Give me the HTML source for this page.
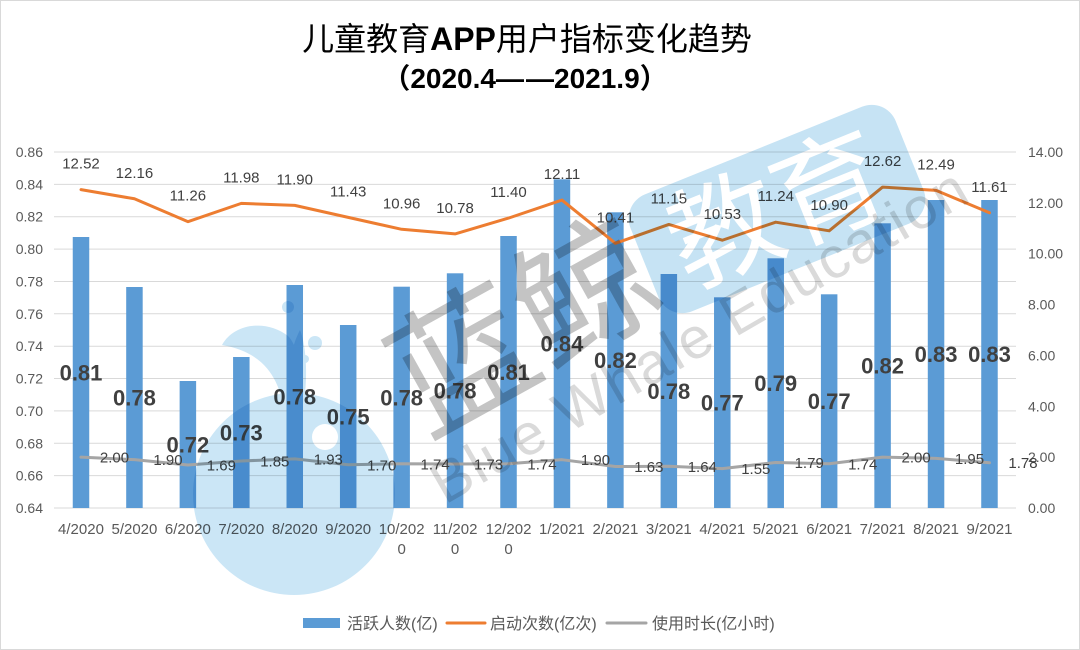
<!DOCTYPE html>
<html><head><meta charset="utf-8"><style>
html,body{margin:0;padding:0;background:#fff;}
svg{display:block;}
text{font-family:"Liberation Sans","Noto Sans CJK SC",sans-serif;}
</style></head><body>
<svg width="1080" height="650" viewBox="0 0 1080 650" xmlns="http://www.w3.org/2000/svg">
<rect x="0.5" y="0.5" width="1079" height="649" fill="#fff" stroke="#d9d9d9"/>
<!-- title -->
<text x="527" y="50" font-size="32" fill="#000" text-anchor="middle">儿童教育<tspan font-weight="bold">APP</tspan>用户指标变化趋势</text>
<text x="525" y="88" font-size="28" font-weight="bold" fill="#000" text-anchor="middle">（2020.4—<tspan dx="2">—</tspan>2021.9）</text>
<!-- gridlines -->
<g stroke="#d9d9d9" stroke-width="1">
<line x1="54" x2="1016" y1="508" y2="508"/>
<line x1="54" x2="1016" y1="475.6" y2="475.6"/>
<line x1="54" x2="1016" y1="443.3" y2="443.3"/>
<line x1="54" x2="1016" y1="410.9" y2="410.9"/>
<line x1="54" x2="1016" y1="378.5" y2="378.5"/>
<line x1="54" x2="1016" y1="346.2" y2="346.2"/>
<line x1="54" x2="1016" y1="313.8" y2="313.8"/>
<line x1="54" x2="1016" y1="281.5" y2="281.5"/>
<line x1="54" x2="1016" y1="249.1" y2="249.1"/>
<line x1="54" x2="1016" y1="216.7" y2="216.7"/>
<line x1="54" x2="1016" y1="184.4" y2="184.4"/>
<line x1="54" x2="1016" y1="152" y2="152"/>
</g>
<!-- left axis -->
<g font-size="14" fill="#595959" text-anchor="end">
<text x="43" y="513">0.64</text>
<text x="43" y="480.6">0.66</text>
<text x="43" y="448.3">0.68</text>
<text x="43" y="415.9">0.70</text>
<text x="43" y="383.5">0.72</text>
<text x="43" y="351.2">0.74</text>
<text x="43" y="318.8">0.76</text>
<text x="43" y="286.5">0.78</text>
<text x="43" y="254.1">0.80</text>
<text x="43" y="221.7">0.82</text>
<text x="43" y="189.4">0.84</text>
<text x="43" y="157">0.86</text>
</g>
<!-- right axis -->
<g font-size="14" fill="#595959" text-anchor="start">
<text x="1028" y="513">0.00</text>
<text x="1028" y="462.1">2.00</text>
<text x="1028" y="411.3">4.00</text>
<text x="1028" y="360.4">6.00</text>
<text x="1028" y="309.6">8.00</text>
<text x="1028" y="258.7">10.00</text>
<text x="1028" y="207.9">12.00</text>
<text x="1028" y="157">14.00</text>
</g>
<!-- bars -->
<g fill="#5B9BD5">
<rect x="72.75" y="237" width="16.5" height="271"/>
<rect x="126.19" y="287" width="16.5" height="221"/>
<rect x="179.63" y="381" width="16.5" height="127"/>
<rect x="233.07" y="357" width="16.5" height="151"/>
<rect x="286.51" y="285" width="16.5" height="223"/>
<rect x="339.95" y="325" width="16.5" height="183"/>
<rect x="393.39" y="286.7" width="16.5" height="221.3"/>
<rect x="446.83" y="273.3" width="16.5" height="234.7"/>
<rect x="500.27" y="236" width="16.5" height="272"/>
<rect x="553.71" y="179.3" width="16.5" height="328.7"/>
<rect x="607.15" y="212.3" width="16.5" height="295.7"/>
<rect x="660.59" y="274" width="16.5" height="234"/>
<rect x="714.03" y="297.3" width="16.5" height="210.7"/>
<rect x="767.47" y="258.3" width="16.5" height="249.7"/>
<rect x="820.91" y="294.3" width="16.5" height="213.7"/>
<rect x="874.35" y="223.3" width="16.5" height="284.7"/>
<rect x="927.79" y="200" width="16.5" height="308"/>
<rect x="981.23" y="200" width="16.5" height="308"/>
</g>
<!-- lines -->
<polyline fill="none" stroke="#ED7D31" stroke-width="3" stroke-linejoin="round" stroke-linecap="round" points="81,189.63 134.44,198.79 187.88,221.67 241.32,203.37 294.76,205.40 348.2,217.35 401.64,229.30 455.08,233.88 508.52,218.11 561.96,200.06 615.4,243.29 668.84,224.47 722.28,240.24 775.72,222.18 829.16,230.83 882.6,187.09 936.04,190.40 989.48,212.77"/>
<polyline fill="none" stroke="#A5A5A5" stroke-width="3" stroke-linejoin="round" stroke-linecap="round" points="81,457.14 134.44,459.68 187.88,465.02 241.32,460.96 294.76,458.92 348.2,464.77 401.64,463.75 455.08,464.01 508.52,463.75 561.96,459.68 615.4,466.55 668.84,466.30 722.28,468.59 775.72,462.48 829.16,463.75 882.6,457.14 936.04,458.41 989.48,462.74"/>
<!-- orange labels -->
<g font-size="15" fill="#404040" text-anchor="middle">
<text x="81" y="168.6">12.52</text>
<text x="134.44" y="177.8">12.16</text>
<text x="187.88" y="200.7">11.26</text>
<text x="241.32" y="182.4">11.98</text>
<text x="294.76" y="184.4">11.90</text>
<text x="348.2" y="196.4">11.43</text>
<text x="401.64" y="208.3">10.96</text>
<text x="455.08" y="212.9">10.78</text>
<text x="508.52" y="197.1">11.40</text>
<text x="561.96" y="179.1">12.11</text>
<text x="615.4" y="222.3">10.41</text>
<text x="668.84" y="203.5">11.15</text>
<text x="722.28" y="219.2">10.53</text>
<text x="775.72" y="201.2">11.24</text>
<text x="829.16" y="209.8">10.90</text>
<text x="882.6" y="166.1">12.62</text>
<text x="936.04" y="169.4">12.49</text>
<text x="989.48" y="191.8">11.61</text>
</g>
<!-- gray labels -->
<g font-size="15" fill="#404040" text-anchor="middle">
<text x="114.5" y="462.6">2.00</text>
<text x="168" y="465.2">1.90</text>
<text x="221.4" y="470.5">1.69</text>
<text x="274.8" y="466.5">1.85</text>
<text x="328.3" y="464.4">1.93</text>
<text x="381.7" y="470.3">1.70</text>
<text x="435.1" y="469.3">1.74</text>
<text x="488.6" y="469.5">1.73</text>
<text x="542" y="469.3">1.74</text>
<text x="595.5" y="465.2">1.90</text>
<text x="648.9" y="472">1.63</text>
<text x="702.3" y="471.8">1.64</text>
<text x="755.8" y="474.1">1.55</text>
<text x="809.2" y="468">1.79</text>
<text x="862.7" y="469.3">1.74</text>
<text x="916.1" y="462.6">2.00</text>
<text x="969.5" y="463.9">1.95</text>
<text x="1023" y="468.2">1.78</text>
</g>
<!-- bar labels -->
<g font-size="22" font-weight="bold" fill="#404040" text-anchor="middle">
<text x="81" y="380.5">0.81</text>
<text x="134.44" y="405.5">0.78</text>
<text x="187.88" y="452.5">0.72</text>
<text x="241.32" y="440.5">0.73</text>
<text x="294.76" y="404.5">0.78</text>
<text x="348.2" y="424.5">0.75</text>
<text x="401.64" y="405.4">0.78</text>
<text x="455.08" y="398.7">0.78</text>
<text x="508.52" y="380">0.81</text>
<text x="561.96" y="351.7">0.84</text>
<text x="615.4" y="368.2">0.82</text>
<text x="668.84" y="399">0.78</text>
<text x="722.28" y="410.7">0.77</text>
<text x="775.72" y="391.2">0.79</text>
<text x="829.16" y="409.2">0.77</text>
<text x="882.6" y="373.7">0.82</text>
<text x="936.04" y="362">0.83</text>
<text x="989.48" y="362">0.83</text>
</g>
<!-- x labels -->
<g font-size="15" fill="#595959" text-anchor="middle">
<text x="81" y="534">4/2020</text>
<text x="134.44" y="534">5/2020</text>
<text x="187.88" y="534">6/2020</text>
<text x="241.32" y="534">7/2020</text>
<text x="294.76" y="534">8/2020</text>
<text x="348.2" y="534">9/2020</text>
<text x="401.64" y="534">10/202</text>
<text x="401.64" y="554">0</text>
<text x="455.08" y="534">11/202</text>
<text x="455.08" y="554">0</text>
<text x="508.52" y="534">12/202</text>
<text x="508.52" y="554">0</text>
<text x="561.96" y="534">1/2021</text>
<text x="615.4" y="534">2/2021</text>
<text x="668.84" y="534">3/2021</text>
<text x="722.28" y="534">4/2021</text>
<text x="775.72" y="534">5/2021</text>
<text x="829.16" y="534">6/2021</text>
<text x="882.6" y="534">7/2021</text>
<text x="936.04" y="534">8/2021</text>
<text x="989.48" y="534">9/2021</text>
</g>
<!-- legend -->
<rect x="303" y="618" width="37" height="10" fill="#5B9BD5"/>
<text x="347" y="629" font-size="16" fill="#595959">活跃人数(亿)</text>
<line x1="447" x2="485" y1="623" y2="623" stroke="#ED7D31" stroke-width="3" stroke-linecap="round"/>
<text x="490" y="629" font-size="16" fill="#595959">启动次数(亿次)</text>
<line x1="607" x2="646" y1="623" y2="623" stroke="#A5A5A5" stroke-width="3" stroke-linecap="round"/>
<text x="652" y="629" font-size="16" fill="#595959">使用时长(亿小时)</text>
<!-- watermark -->
<g style="mix-blend-mode:multiply">
  <g fill="#cbe6f6">
    <circle cx="294" cy="494" r="101"/>
    <path d="M222,345 C235,322 268,320 288,336 C298,346 302,370 300,395 L282,400 C276,375 262,352 222,345 Z"/>
    <path d="M288,395 C286,370 292,345 300,330 C306,345 308,375 304,400 Z"/>
    <circle cx="288" cy="307" r="6"/>
    <circle cx="315" cy="343" r="7"/>
    <circle cx="305" cy="359" r="4"/>
  </g>
  <circle cx="325" cy="437" r="13" fill="#fff"/>
</g>
<g style="mix-blend-mode:multiply">
  <g transform="translate(777,209) rotate(-22)">
    <rect x="-143" y="-63" width="286" height="126" rx="26" fill="#c6e3f4"/>
    <text x="0" y="40" font-size="112" fill="#fff" text-anchor="middle" font-family="Noto Sans CJK SC, sans-serif">教育</text>
  </g>
</g>
<g style="mix-blend-mode:multiply">
  <text transform="translate(525,328) rotate(-29)" x="0" y="48" font-size="140" fill="#c4c4c4" text-anchor="middle" font-family="Noto Sans CJK SC, sans-serif">蓝鲸</text>
  <text transform="translate(445,505) rotate(-30)" x="0" y="0" font-size="58" fill="#dadada" letter-spacing="2">Blue Whale Education</text>
</g>
</svg>
</body></html>
